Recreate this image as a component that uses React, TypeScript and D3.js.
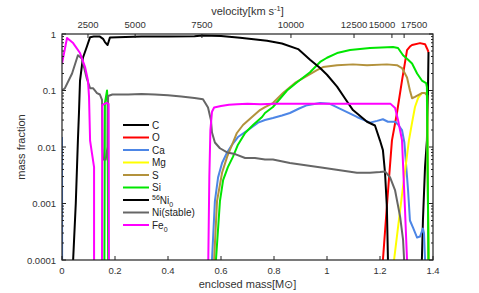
import * as d3 from 'd3';

// enclosed mass [Msun], mass fraction
const seriesC = [[1.358, 1e-4], [1.362, 0.0005], [1.37, 0.0045], [1.377, 0.013], [1.381, 0.1], [1.383, 0.48]];
const seriesO = [[1.211, 1e-4], [1.228, 0.0012], [1.245, 0.013], [1.264, 0.04], [1.283, 0.15], [1.302, 0.52], [1.313, 0.6], [1.321, 0.64], [1.351, 0.69], [1.37, 0.66], [1.377, 0.56], [1.383, 0.48]];
const seriesCa = [
  [0, 0.015], [0.0005, 1e-4], null,
  [0.566, 1e-4], [0.577, 0.0011], [0.589, 0.0029], [0.604, 0.0052], [0.623, 0.008], [0.642, 0.011], [0.664, 0.015], [0.702, 0.02], [0.74, 0.027], [0.766, 0.03], [0.796, 0.0325], [0.83, 0.036], [0.86, 0.04], [0.895, 0.048], [0.925, 0.055], [0.974, 0.06], [1.011, 0.058], [1.06, 0.045], [1.113, 0.034], [1.162, 0.027], [1.189, 0.029], [1.211, 0.031], [1.23, 0.028], [1.257, 0.028], [1.268, 0.025], [1.283, 0.02], [1.292, 0.012], [1.306, 0.0017], [1.313, 0.0005], [1.325, 0.00037], [1.34, 0.00025], [1.351, 0.00026], [1.362, 0.00036], [1.366, 0.0003], [1.37, 1e-4],
];
const seriesMg = [[1.253, 1e-4], [1.281, 0.0012], [1.309, 0.013], [1.321, 0.027], [1.332, 0.051], [1.344, 0.074], [1.358, 0.09], [1.37, 0.09], [1.378, 0.082], [1.383, 1e-4]];
const seriesS = [[0.574, 1e-4], [0.585, 0.0011], [0.604, 0.0035], [0.623, 0.0067], [0.642, 0.011], [0.66, 0.0177], [0.683, 0.0245], [0.717, 0.034], [0.747, 0.045], [0.766, 0.051], [0.796, 0.06], [0.834, 0.09], [0.879, 0.136], [0.91, 0.166], [0.962, 0.23], [0.985, 0.26], [1.038, 0.28], [1.098, 0.29], [1.151, 0.28], [1.226, 0.29], [1.264, 0.28], [1.283, 0.25], [1.302, 0.17], [1.313, 0.1], [1.321, 0.073], [1.332, 0.077], [1.358, 0.09], [1.37, 0.09], [1.377, 0.083], [1.383, 1e-4]];
const seriesSi = [
  [0.16, 1e-4], [0.162, 0.06], [0.17, 0.1], [0.172, 0.06], [0.174, 1e-4], null,
  [0.581, 1e-4], [0.596, 0.0011], [0.608, 0.0026], [0.626, 0.0044], [0.645, 0.0067], [0.664, 0.011], [0.691, 0.0177], [0.721, 0.0245], [0.755, 0.034], [0.766, 0.04], [0.796, 0.051], [0.849, 0.1], [0.887, 0.14], [0.936, 0.21], [0.974, 0.32], [1.0, 0.38], [1.038, 0.46], [1.087, 0.52], [1.162, 0.565], [1.249, 0.59], [1.268, 0.565], [1.287, 0.42], [1.306, 0.35], [1.321, 0.3], [1.34, 0.2], [1.358, 0.15], [1.374, 0.135], [1.377, 0.115], [1.383, 1e-4],
];
const seriesNi56 = [[0.042, 1e-4], [0.052, 0.001], [0.06, 0.013], [0.064, 0.04], [0.068, 0.15], [0.079, 0.38], [0.094, 0.6], [0.106, 0.88], [0.12, 0.9], [0.143, 0.9], [0.155, 0.82], [0.162, 0.72], [0.172, 0.64], [0.181, 0.87], [0.21, 0.88], [0.3, 0.9], [0.4, 0.9], [0.5, 0.91], [0.53, 0.94], [0.6, 0.92], [0.672, 0.86], [0.774, 0.76], [0.83, 0.68], [0.891, 0.54], [0.91, 0.45], [0.936, 0.35], [0.974, 0.25], [1.0, 0.19], [1.038, 0.117], [1.07, 0.07], [1.098, 0.045], [1.151, 0.028], [1.181, 0.024], [1.2, 0.013], [1.211, 0.0088], [1.219, 0.0035], [1.226, 0.00085], [1.23, 1e-4]];
const seriesNiStable = [[0, 0.1], [0.011, 0.11], [0.038, 0.2], [0.06, 0.42], [0.075, 0.37], [0.094, 0.16], [0.106, 0.11], [0.117, 0.11], [0.132, 0.09], [0.143, 0.085], [0.151, 0.068], [0.153, 0.01], [0.155, 0.006], [0.165, 0.006], [0.172, 0.01], [0.174, 0.08], [0.19, 0.085], [0.25, 0.085], [0.3, 0.087], [0.35, 0.085], [0.4, 0.082], [0.45, 0.078], [0.5, 0.074], [0.532, 0.07], [0.551, 0.05], [0.562, 0.03], [0.566, 0.018], [0.577, 0.012], [0.596, 0.0095], [0.623, 0.008], [0.653, 0.0075], [0.691, 0.0064], [0.728, 0.0064], [0.766, 0.006], [0.796, 0.006], [0.86, 0.0052], [0.985, 0.0043], [1.113, 0.0035], [1.162, 0.0035], [1.2, 0.0036], [1.219, 0.0037], [1.238, 0.0029], [1.257, 0.0017], [1.276, 0.00058], [1.287, 0.00023], [1.291, 1e-4]];
const seriesFe = [
  [0, 0.3], [0.019, 0.85], [0.042, 0.69], [0.068, 0.46], [0.087, 0.26], [0.098, 0.15], [0.102, 0.077], [0.106, 0.013], [0.113, 0.0078], [0.121, 0.0044], [0.121, 1e-4], null,
  [0.151, 1e-4], [0.152, 0.055], [0.16, 0.058], [0.168, 0.06], [0.176, 0.058], [0.177, 1e-4], null,
  [0.552, 1e-4], [0.556, 0.003], [0.56, 0.02], [0.566, 0.042], [0.574, 0.05], [0.6, 0.053], [0.63, 0.056], [0.66, 0.057], [0.7, 0.058], [0.75, 0.057], [0.8, 0.058], [0.9, 0.058], [1.0, 0.058], [1.1, 0.058], [1.2, 0.058], [1.24, 0.058], [1.257, 0.049], [1.268, 0.03], [1.283, 0.0133], [1.294, 0.00085], [1.302, 1e-4],
];

const legendNames = ['C', 'O', 'Ca', 'Mg', 'S', 'Si', '56Ni0', 'Ni(stable)', 'Fe0'];
const massTicks = [0, 0.2, 0.4, 0.6, 0.8, 1, 1.2, 1.4];
const fractionTicks = [1e-4, 1e-3, 1e-2, 0.1, 1];
const fractionLabels = ['0.0001', '0.001', '0.01', '0.1', '1'];
const velocityTicks = [2500, 5000, 7500, 10000, 12500, 15000, 17500];
const velocityTickMass = [0.098, 0.276, 0.528, 0.864, 1.102, 1.245, 1.291];

const W = 479;
const H = 293;
const m = { left: 62, right: 46, top: 34, bottom: 33 };
const colors = ['#000000', '#ff0000', '#4d86e6', '#ffff00', '#b3923c', '#00e600', '#000000', '#666666', '#ff00ff'];
const font = "'Liberation Sans', Arial, sans-serif";

export default function App() {
  const x = d3.scaleLinear().domain([0, 1.4]).range([m.left, W - m.right]);
  const y = d3.scaleLog().domain([1e-4, 1]).range([H - m.bottom, m.top]);
  const all = [seriesC, seriesO, seriesCa, seriesMg, seriesS, seriesSi, seriesNi56, seriesNiStable, seriesFe];
  const line = d3
    .line<any>()
    .defined((d) => d != null)
    .x((d) => x(d[0]))
    .y((d) => y(d[1]));

  const x0 = x.range()[0], x1 = x.range()[1];
  const y0 = y.range()[0], y1 = y.range()[1];

  const minor: number[] = [];
  for (let e = -4; e < 0; e++) for (let k = 2; k < 10; k++) minor.push(k * Math.pow(10, e));

  // nudge crowded velocity labels apart
  const velX = velocityTickMass.map((v) => x(v));
  const velLabelX = velX.slice();
  for (let i = 1; i < velLabelX.length; i++) {
    const gap = velLabelX[i] - velLabelX[i - 1];
    if (gap < 32) {
      const push = (32 - gap) / 2;
      velLabelX[i - 1] -= push;
      velLabelX[i] += push;
    }
  }

  const legX = 123;
  const legY = 125;
  const legStep = 12.5;

  return (
    <svg width={W} height={H} style={{ position: 'absolute', left: 0, top: 0, background: '#fff' }} fontFamily={font}>
      <defs>
        <clipPath id="plot">
          <rect x={x0} y={y1} width={x1 - x0} height={y0 - y1} />
        </clipPath>
      </defs>
      <g clipPath="url(#plot)" fill="none" strokeWidth={2} strokeLinejoin="round">
        {all.map((s, i) => (
          <path key={i} d={line(s as any) || ''} stroke={colors[i]} />
        ))}
      </g>

      <rect x={x0} y={y1} width={x1 - x0} height={y0 - y1} fill="none" stroke="#222" strokeWidth={1.2} />

      {/* bottom axis */}
      {massTicks.map((t) => (
        <g key={'b' + t}>
          <line x1={x(t)} x2={x(t)} y1={y0} y2={y0 - 4} stroke="#222" />
          <text x={x(t)} y={y0 + 14} fontSize={9.5} textAnchor="middle" fill="#333">
            {t}
          </text>
        </g>
      ))}

      {/* left + right axis */}
      {fractionTicks.map((t, i) => (
        <g key={'l' + t}>
          <line x1={x0} x2={x0 + 4} y1={y(t)} y2={y(t)} stroke="#222" />
          <line x1={x1} x2={x1 - 4} y1={y(t)} y2={y(t)} stroke="#222" />
          <text x={x0 - 6} y={y(t) + 3.5} fontSize={9.5} textAnchor="end" fill="#333">
            {fractionLabels[i]}
          </text>
        </g>
      ))}
      {minor.map((t) => (
        <g key={'n' + t}>
          <line x1={x0} x2={x0 + 2} y1={y(t)} y2={y(t)} stroke="#222" />
          <line x1={x1} x2={x1 - 2} y1={y(t)} y2={y(t)} stroke="#222" />
        </g>
      ))}

      {/* top velocity axis */}
      {velocityTicks.map((v, i) => (
        <g key={'v' + v}>
          <line x1={velX[i]} x2={velX[i]} y1={y1} y2={y1 + 4} stroke="#222" />
          <text x={velLabelX[i]} y={y1 - 6} fontSize={9.5} textAnchor="middle" fill="#333">
            {v}
          </text>
        </g>
      ))}

      <text x={(x0 + x1) / 2} y={15} fontSize={11} textAnchor="middle" fill="#333">
        velocity[km s<tspan dy={-4} fontSize={7.5}>-1</tspan>
        <tspan dy={4}>]</tspan>
      </text>
      <text x={(x0 + x1) / 2} y={288} fontSize={11} textAnchor="middle" fill="#333">
        enclosed mass[M⊙]
      </text>
      <text transform={`translate(25,${(y0 + y1) / 2}) rotate(-90)`} fontSize={11} textAnchor="middle" fill="#333">
        mass fraction
      </text>

      {/* legend */}
      {legendNames.map((name, i) => {
        const ly = legY + i * legStep;
        let label: any = name;
        if (name === '56Ni0') {
          label = (
            <>
              <tspan dy={-4} fontSize={7}>56</tspan>
              <tspan dy={4}>Ni</tspan>
              <tspan dy={3} fontSize={7}>0</tspan>
            </>
          );
        } else if (name === 'Fe0') {
          label = (
            <>
              Fe<tspan dy={3} fontSize={7}>0</tspan>
            </>
          );
        }
        return (
          <g key={name}>
            <line x1={legX} x2={legX + 26} y1={ly} y2={ly} stroke={colors[i]} strokeWidth={2} />
            <text x={legX + 29} y={ly + 3.5} fontSize={10} fill="#222">
              {label}
            </text>
          </g>
        );
      })}
    </svg>
  );
}
